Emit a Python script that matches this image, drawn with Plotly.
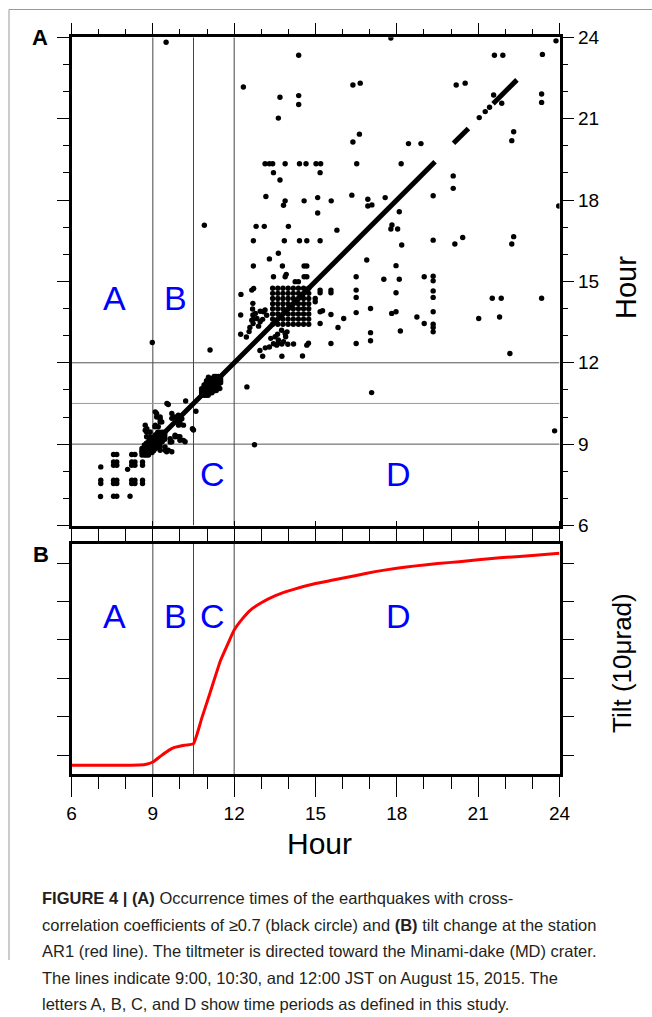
import plotly.graph_objects as go

# ---------------- DATA ----------------
# Panel A: correlated pairs (upper triangle, x < y), mirrored to the lower triangle
pair_x = [7.08, 7.08, 7.08, 7.55, 7.55, 7.55, 7.55, 7.67, 7.67, 7.67, 8.22, 8.22, 8.34,
          8.77, 8.77, 8.89, 8.72, 8.78, 8.72, 8.90, 9.08, 9.20, 9.27, 9.27, 9.33, 9.14, 9.14,
          9.09, 9.27, 9.70, 9.70, 9.82, 9.94, 9.57, 9.52, 10.21, 9.09,
          8.98, 11.11, 10.90, 9.49, 10.98, 11.05,
          12.24, 12.24, 12.25, 12.65, 12.69, 12.69, 12.78, 12.96, 12.65, 12.84, 12.96, 12.72,
          13.14, 13.08, 12.45, 12.58, 12.90, 12.68, 12.72, 12.70, 13.05, 13.20, 12.55,
          13.45, 13.92, 13.88, 14.58, 14.68, 14.25, 14.37,
          13.63, 13.30, 12.71, 13.78, 14.58, 14.68,
          12.71, 13.85, 14.41, 14.68, 15.17,
          12.81, 13.11, 14.00, 15.79,
          13.17, 13.88, 13.82, 14.58, 15.08, 15.08, 15.58, 16.34, 16.93, 16.93, 17.08, 17.57,
          13.45, 13.69, 15.17,
          13.14, 13.30, 13.42, 13.88, 14.41, 14.65, 15.02, 15.19, 16.52, 18.16,
          16.62, 16.38, 18.43, 18.89,
          13.63, 13.69, 14.38, 14.38,
          12.34, 16.38, 16.65, 20.19, 20.52,
          14.38, 21.60, 21.91, 21.57, 17.78]
pair_y = [7.55, 7.67, 8.16, 7.67, 8.22, 8.34, 8.62, 8.22, 8.34, 8.62, 8.34, 8.62, 8.62,
          9.45, 9.27, 9.27, 9.51, 9.57, 9.70, 9.45, 9.64, 9.64, 9.82, 9.92, 9.82, 10.00, 10.13,
          10.19, 10.00, 10.13, 9.95, 10.00, 10.07, 10.46, 10.50, 10.59, 9.70,
          12.75, 12.47, 17.07, 23.82, 11.34, 11.47,
          13.76, 13.05, 14.52, 14.68, 14.19, 13.76, 13.82, 13.90, 13.57, 13.63, 13.51, 14.74,
          13.95, 13.88, 12.95, 13.30, 13.35, 13.98, 13.62, 13.45, 13.60, 13.75, 13.15,
          15.17, 15.26, 15.17, 15.17, 15.17, 14.99, 14.99,
          16.04, 15.83, 15.57, 15.57, 15.57, 15.57,
          16.50, 16.50, 16.50, 16.50, 16.50,
          17.03, 17.03, 17.03, 16.89,
          18.13, 17.97, 17.81, 17.97, 18.09, 17.52, 17.97, 18.18, 18.03, 17.78, 17.82, 18.09,
          19.01, 18.74, 19.01,
          19.34, 19.34, 19.34, 19.34, 19.34, 19.34, 19.34, 19.34, 19.34, 19.34,
          20.43, 20.14, 20.08, 20.08,
          21.02, 21.79, 21.85, 21.52,
          22.17, 22.24, 22.31, 22.24, 22.31,
          23.34, 23.34, 23.34, 21.87, 23.97]

# dense swarms of events close to the diagonal (pairs closer than swarm_window plotted)
swarm_0900 = [8.60, 8.69, 8.76, 8.84, 8.90, 8.97, 9.03, 9.10, 9.18, 9.26, 9.35, 9.44]
swarm_1110 = [10.80, 10.89, 10.97, 11.04, 11.11, 11.18, 11.26, 11.33, 11.41, 11.50]
swarm_window = 0.30
# block of mutually correlated events around 14:00 (every pair plotted)
cluster_1400 = [13.42, 13.61, 13.80, 13.99, 14.18, 14.37, 14.56, 14.75]

# isolated events on the diagonal and dense diagonal runs
diag_events = [7.07, 7.55, 7.67, 8.07, 8.22, 8.34, 21.04, 21.26, 21.42, 23.37, 23.87]
diag_run_start = [8.62, 20.09, 21.55]
diag_run_end = [19.41, 20.64, 22.43]

# Panel B: tilt at AR1 (units of 10 microrad, arbitrary offset)
tilt_hour = [6.0, 7.0, 8.0, 8.5, 8.8, 9.0, 9.3, 9.6, 9.8, 10.2, 10.5, 10.8, 11.1, 11.5,
             11.8, 12.0, 12.3, 12.6, 13.0, 13.5, 14.1, 15.0, 15.65, 16.5, 17.2, 18.0,
             18.7, 19.5, 20.3, 21.0, 21.8, 23.0, 24.0]
tilt_val = [0.235, 0.235, 0.235, 0.24, 0.27, 0.32, 0.48, 0.63, 0.70, 0.76, 0.80, 1.45,
            2.10, 2.97, 3.45, 3.76, 4.05, 4.28, 4.47, 4.65, 4.80, 4.97, 5.06, 5.18, 5.28,
            5.37, 5.43, 5.49, 5.54, 5.59, 5.64, 5.70, 5.76]

boundaries = [9.0, 10.5, 12.0]
period_labels = ["A", "B", "C", "D"]
period_x = [7.6, 9.82, 11.2, 18.05]
period_y_top_row = [14.4, 14.4, 7.9, 7.9]
period_y_panelB = 4.12
hour_ticks = [6, 9, 12, 15, 18, 21, 24]

caption_lines = [
    "<b>FIGURE 4 | (A)</b> Occurrence times of the earthquakes with cross-",
    "correlation coefficients of ≥0.7 (black circle) and <b>(B)</b> tilt change at the station",
    "AR1 (red line). The tiltmeter is directed toward the Minami-dake (MD) crater.",
    "The lines indicate 9:00, 10:30, and 12:00 JST on August 15, 2015. The",
    "letters A, B, C, and D show time periods as defined in this study.",
]

# ---------------- FIGURE ----------------
W, H = 652, 1017
def fx(p):
    return p / W
def fy(p):
    return 1 - p / H

FONT = "Liberation Sans, Arial, Helvetica, sans-serif"
NARROW = "Liberation Sans Narrow, Liberation Sans, Arial, sans-serif"

sx = pair_x + pair_y
sy = pair_y + pair_x
for sw in (swarm_0900, swarm_1110):
    for a in sw:
        for b in sw:
            if abs(a - b) <= swarm_window:
                sx.append(a)
                sy.append(b)
for a in cluster_1400:
    for b in cluster_1400:
        sx.append(a)
        sy.append(b)
sx += diag_events
sy += diag_events

fig = go.Figure()

for s, e in zip(diag_run_start, diag_run_end):
    fig.add_trace(go.Scatter(x=[s, e], y=[s, e], mode="lines",
                             line=dict(color="black", width=5),
                             xaxis="x", yaxis="y", showlegend=False, hoverinfo="skip"))

fig.add_trace(go.Scatter(x=sx, y=sy, mode="markers",
                         marker=dict(color="black", size=5.4, line=dict(width=0)),
                         xaxis="x", yaxis="y", showlegend=False))

fig.add_trace(go.Scatter(x=tilt_hour, y=tilt_val, mode="lines",
                         line=dict(color="#ff0000", width=3, shape="spline", smoothing=0.4),
                         xaxis="x2", yaxis="y2", showlegend=False))

xdom = [fx(71.5), fx(559.5)]
ydomA = [fy(525.5), fy(37.3)]
ydomB = [fy(774.3), fy(544.0)]

common = dict(showgrid=False, zeroline=False, showline=True, linecolor="black",
              linewidth=2.5, ticks="outside", tickcolor="black", tickwidth=1,
              mirror="ticks")

fig.update_layout(
    width=W, height=H, margin=dict(l=0, r=0, t=0, b=0, autoexpand=False),
    paper_bgcolor="white", plot_bgcolor="white",
    font=dict(family=FONT, color="black"),
    xaxis=dict(domain=xdom, range=[6, 24], anchor="y", tickvals=hour_ticks,
               ticklen=12, showticklabels=False,
               minor=dict(dtick=1, tick0=6, ticklen=6, ticks="outside", tickcolor="black"),
               **common),
    yaxis=dict(domain=ydomA, range=[6, 24], anchor="x", side="right",
               tickvals=hour_ticks, ticklen=12,
               tickfont=dict(size=19, family=NARROW),
               minor=dict(dtick=1, tick0=6, ticklen=6, ticks="outside", tickcolor="black"),
               **common),
    xaxis2=dict(domain=xdom, range=[6, 24], anchor="y2", tickvals=hour_ticks,
                ticklen=20, tickfont=dict(size=19, family=NARROW),
                minor=dict(dtick=1, tick0=6, ticklen=12, ticks="outside", tickcolor="black"),
                **common),
    yaxis2=dict(domain=ydomB, range=[0, 6], anchor="x2", side="right",
                tick0=0.5, dtick=1, ticklen=12, showticklabels=False, **common),
)

shapes = []
for b in boundaries:
    shapes.append(dict(type="line", xref="x", yref="y", x0=b, x1=b, y0=6, y1=24,
                       line=dict(color="#444444", width=1), layer="below"))
    shapes.append(dict(type="line", xref="x", yref="y", x0=6, x1=24, y0=b, y1=b,
                       line=dict(color="#999999" if b == 10.5 else "#555555", width=1),
                       layer="below"))
    shapes.append(dict(type="line", xref="x2", yref="y2", x0=b, x1=b, y0=0, y1=6,
                       line=dict(color="#444444", width=1), layer="below"))
shapes.append(dict(type="line", xref="paper", yref="paper", x0=fx(9), x1=1.0,
                   y0=fy(9.5), y1=fy(9.5), line=dict(color="#999999", width=1)))
shapes.append(dict(type="line", xref="paper", yref="paper", x0=fx(9), x1=fx(9),
                   y0=fy(9.5), y1=fy(960), line=dict(color="#999999", width=1)))
fig.update_layout(shapes=shapes)

def note(text, x, y, size, xref="paper", yref="paper", color="black", angle=0,
         xanchor="center", family=FONT):
    return dict(text=text, x=x, y=y, xref=xref, yref=yref, showarrow=False,
                xanchor=xanchor, yanchor="middle", textangle=angle,
                font=dict(size=size, color=color, family=family))

ann = []
for lab, px_, py_ in zip(period_labels, period_x, period_y_top_row):
    ann.append(note(lab, px_, py_, 34, "x", "y", "#0000ff"))
    ann.append(note(lab, px_, period_y_panelB, 34, "x2", "y2", "#0000ff"))
ann.append(note("<b>A</b>", fx(40), fy(37), 22))
ann.append(note("<b>B</b>", fx(41), fy(554), 22))
ann.append(note("Hour", fx(626), fy(288), 29, angle=-90))
ann.append(note("Tilt (10μrad)", fx(622), fy(663), 26, angle=-90))
ann.append(note("Hour", fx(319), fy(843), 30))
for i, line in enumerate(caption_lines):
    ann.append(note(line, fx(40), fy(898 + i * 26.5), 16.5, color="#231f20",
                    xanchor="left", family=NARROW))
fig.update_layout(annotations=ann)

fig.write_html("out.html",
               post_script="document.body.style.margin='0px';document.body.style.padding='0px';")
